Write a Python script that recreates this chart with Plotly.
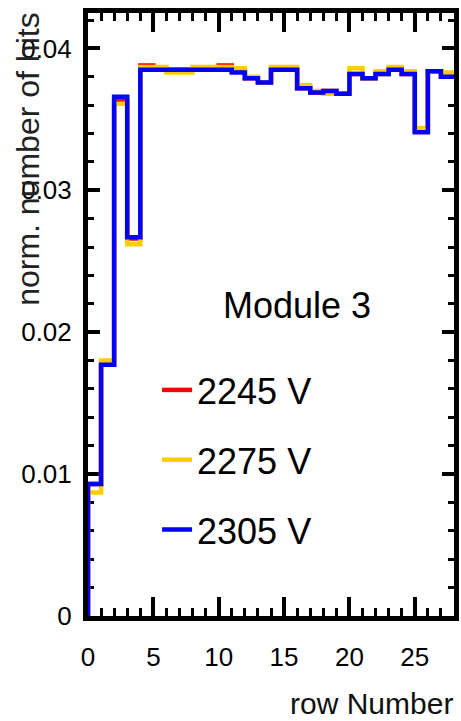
import plotly.graph_objects as go

# bin edges of the row histogram (rows 0..27)
row_edges = list(range(29))

# normalised number of hits per row, one list per high voltage
hits_2245 = [0.0093, 0.0177, 0.0363, 0.0266, 0.0388, 0.0385, 0.0385, 0.0385, 0.0385, 0.0385,
             0.0388, 0.0384, 0.0379, 0.0376, 0.0385, 0.0385, 0.0372, 0.0369, 0.0370, 0.0368,
             0.0382, 0.0379, 0.0382, 0.0385, 0.0382, 0.0342, 0.0384, 0.0380]
hits_2275 = [0.0087, 0.0180, 0.0361, 0.0262, 0.0387, 0.0387, 0.0383, 0.0383, 0.0387, 0.0387,
             0.0387, 0.0386, 0.0380, 0.0376, 0.0387, 0.0387, 0.0374, 0.0370, 0.0368, 0.0368,
             0.0386, 0.0379, 0.0384, 0.0387, 0.0384, 0.0344, 0.0384, 0.0383]
hits_2305 = [0.0093, 0.0177, 0.0366, 0.0267, 0.0385, 0.0385, 0.0385, 0.0385, 0.0385, 0.0385,
             0.0385, 0.0383, 0.0379, 0.0376, 0.0385, 0.0385, 0.0372, 0.0369, 0.0370, 0.0368,
             0.0382, 0.0379, 0.0382, 0.0385, 0.0382, 0.0341, 0.0384, 0.0380]

series_names = ["2245 V", "2275 V", "2305 V"]
series_colors = ["#ff0000", "#ffcc00", "#0000ff"]
series_values = [hits_2245, hits_2275, hits_2305]

x_ticks = [0, 5, 10, 15, 20, 25]
y_ticks = [0, 0.01, 0.02, 0.03, 0.04]
y_tick_text = ["0", "0.01", "0.02", "0.03", "0.04"]

FONT = "Liberation Sans, Arial, sans-serif"

fig = go.Figure()
for i, (name, color, vals) in enumerate(zip(series_names, series_colors, series_values)):
    xs = [row_edges[0]] + row_edges[:-1] + [row_edges[-1]]
    ys = [0] + vals + [vals[-1]]
    fig.add_trace(go.Scatter(
        x=xs, y=ys, mode="lines", name=name,
        line=dict(color=color, width=4.5, shape="hv"),
        legendgroup=name,
    ))

axis_common = dict(
    showgrid=False, zeroline=False,
    showline=True, linecolor="black", linewidth=5,
    mirror="ticks", ticks="inside", tickcolor="black",
    layer="below traces",
    tickfont=dict(family=FONT, size=26, color="black"),
)

fig.update_xaxes(
    range=[0, 28], tickvals=x_ticks, ticklen=19, tickwidth=4,
    minor=dict(dtick=1, ticks="inside", ticklen=8, tickwidth=3, tickcolor="black"),
    ticklabelstandoff=14,
    **axis_common,
)
fig.update_yaxes(
    range=[0, 0.0425], tickvals=y_ticks, ticktext=y_tick_text, ticklen=12, tickwidth=4,
    minor=dict(dtick=0.002, ticks="inside", ticklen=6, tickwidth=3, tickcolor="black"),
    ticklabelstandoff=6,
    **axis_common,
)

fig.add_annotation(text="Module 3", xref="paper", yref="paper",
                   x=(300 - 88) / 371, y=(616 - 305) / 603, showarrow=False,
                   font=dict(family=FONT, size=36, color="black"))
fig.add_annotation(text="row Number", xref="paper", yref="paper",
                   x=1.0, xanchor="right", y=-(721 - 616) / 603, yanchor="bottom",
                   showarrow=False, borderpad=0,
                   font=dict(family=FONT, size=30, color="#111111"))
fig.add_annotation(text="norm. number of hits", xref="paper", yref="paper",
                   x=-(88 - 27) / 371, xanchor="center", y=(616 - 159) / 603, yanchor="middle",
                   textangle=-90, showarrow=False,
                   font=dict(family=FONT, size=32, color="#222222"))

fig.update_layout(
    width=461, height=721,
    margin=dict(l=88, r=2, t=13, b=105),
    paper_bgcolor="white", plot_bgcolor="white",
    showlegend=True,
    legend=dict(
        x=(158 - 88) / 371, xanchor="left",
        y=(616 - 360) / 603, yanchor="top",
        bgcolor="rgba(0,0,0,0)", borderwidth=0,
        font=dict(family=FONT, size=36, color="black"),
        tracegroupgap=20, traceorder="grouped",
    ),
)

fig.write_html("out.html")
